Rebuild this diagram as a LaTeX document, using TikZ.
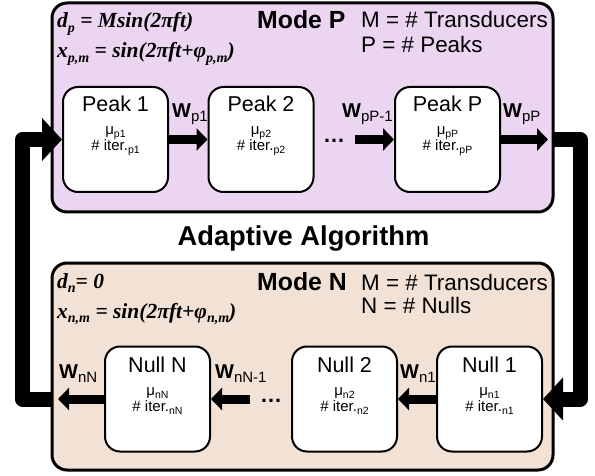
\documentclass[tikz,border=0pt]{standalone}
\usepackage{fontspec}
\setmainfont{Liberation Sans}
\newfontfamily\tnr{Liberation Serif}
\usetikzlibrary{arrows.meta}
\definecolor{pfill}{HTML}{EBD5F0}
\definecolor{nfill}{HTML}{F2E1D5}
\newcommand\fs[1]{\fontsize{#1}{#1}\selectfont}
\newcommand\wsub[1]{\raisebox{-4pt}{\fs{15}\mdseries #1}}
\newcommand\ssub[1]{\raisebox{-3pt}{\fs{10.5}#1}}
\newcommand\msub[1]{\raisebox{-4.5pt}{\fs{14}#1}}
\begin{document}
\begin{tikzpicture}[x=1pt,y=-1pt,
  panel/.style={draw, line width=3pt, rounded corners=15pt},
  blk/.style={draw, line width=2pt, rounded corners=15pt, fill=white, minimum width=105pt, minimum height=105pt, inner sep=0pt},
  ctxt/.style={inner sep=0pt, anchor=base},
  ltxt/.style={inner sep=0pt, anchor=base west},
  bname/.style={ctxt, font=\fs{21.5}},
  bsmall/.style={ctxt, font=\fs{15}},
  wlab/.style={ltxt, font=\bfseries\fs{20}},
  formula/.style={ltxt, font=\tnr\bfseries\itshape\fs{21.5}},
  info/.style={ltxt, font=\fs{22.4}},
  mode/.style={ltxt, font=\bfseries\fs{24.8}},
  dotstyle/.style={ctxt, font=\bfseries\fs{22}},
  sarrow/.style={line width=9pt, -{Triangle[length=11pt,width=22pt]}},
  barrow/.style={line width=15pt, line join=round, -{Triangle[length=20pt,width=42pt]}}]
\useasboundingbox (0,0) rectangle (595,476);
% panels
\draw[panel, fill=pfill] (52,3) rectangle (553,212);
\draw[panel, fill=nfill] (52,263) rectangle (553,470);
% texts top panel
\node[formula] (fp1) at (57,28) {d\msub{p} = Msin(2πft)};
\node[formula] (fp2) at (57,58) {x\msub{p,m} = sin(2πft+φ\msub{p,m})};
\node[mode] (modeP) at (257,29) {Mode P};
\node[info] (iP1) at (361,28) {M = \# Transducers};
\node[info] (iP2) at (361,53) {P = \# Peaks};
% texts bottom panel
\node[formula] (fn1) at (57,288) {d\msub{n}= 0};
\node[formula] (fn2) at (57,318) {x\msub{n,m} = sin(2πft+φ\msub{n,m})};
\node[mode] (modeN) at (257,290) {Mode N};
\node[info] (iN1) at (361,290) {M = \# Transducers};
\node[info] (iN2) at (361,313) {N = \# Nulls};
% title
\node[ctxt, font=\bfseries\fs{27.3}] (title) at (303.5,245) {Adaptive Algorithm};
% boxes
\node[blk] (p1) at (115.5,139.5) {};
\node[blk] (p2) at (261,139.5) {};
\node[blk] (pP) at (447.5,139.5) {};
\node[blk] (nN) at (157.5,399) {};
\node[blk] (n2) at (344.5,399) {};
\node[blk] (n1) at (489.5,399) {};
% box texts
\node[bname] (p1a) at (115.5,112) {Peak 1};
\node[bsmall] (p1b) at (115.5,135) {μ\ssub{p1}};
\node[bsmall] (p1c) at (115.5,151) {\# iter.\ssub{p1}};
\node[bname] (p2a) at (261,112) {Peak 2};
\node[bsmall] (p2b) at (261,135) {μ\ssub{p2}};
\node[bsmall] (p2c) at (261,151) {\# iter.\ssub{p2}};
\node[bname] (pPa) at (447.5,112) {Peak P};
\node[bsmall] (pPb) at (447.5,135) {μ\ssub{pP}};
\node[bsmall] (pPc) at (447.5,151) {\# iter.\ssub{pP}};
\node[bname] (nNa) at (157.5,372) {Null N};
\node[bsmall] (nNb) at (157.5,395) {μ\ssub{nN}};
\node[bsmall] (nNc) at (157.5,411) {\# iter.\ssub{nN}};
\node[bname] (n2a) at (344.5,372) {Null 2};
\node[bsmall] (n2b) at (344.5,395) {μ\ssub{n2}};
\node[bsmall] (n2c) at (344.5,411) {\# iter.\ssub{n2}};
\node[bname] (n1a) at (489.5,372) {Null 1};
\node[bsmall] (n1b) at (489.5,395) {μ\ssub{n1}};
\node[bsmall] (n1c) at (489.5,411) {\# iter.\ssub{n1}};
% dots
\node[dotstyle] (dP) at (334,143) {…};
\node[dotstyle] (dN) at (271,402.5) {…};
% coordinates
\coordinate (inP) at (355,139.5);
\coordinate (outP) at (548,139.5);
\coordinate (loopRs) at (553,139.5);
\coordinate (loopRc) at (580,399);
\coordinate (inN) at (250,399);
\coordinate (outN) at (58,399);
\coordinate (loopLs) at (52,399);
\coordinate (loopLc) at (22.5,139.5);
% small arrows
\draw[sarrow] (p1.east) -- (p2.west);
\draw[sarrow] (inP) -- (pP.west);
\draw[sarrow] (pP.east) -- (outP);
\draw[sarrow] (n1.west) -- (n2.east);
\draw[sarrow] (inN) -- (nN.east);
\draw[sarrow] (nN.west) -- (outN);
% big feedback arrows
\draw[barrow] (loopRs) -| (loopRc) -- (n1.east);
\draw[barrow] (loopLs) -| (loopLc) -- (p1.west);
% W labels
\node[wlab] (w1) at (172,118) {W\wsub{p1}};
\node[wlab] (w2) at (342,118) {W\wsub{pP-1}};
\node[wlab] (w3) at (503,118) {W\wsub{pP}};
\node[wlab] (w4) at (59,378) {W\wsub{nN}};
\node[wlab] (w5) at (215,378) {W\wsub{nN-1}};
\node[wlab] (w6) at (400,378) {W\wsub{n1}};
\end{tikzpicture}
\end{document}
